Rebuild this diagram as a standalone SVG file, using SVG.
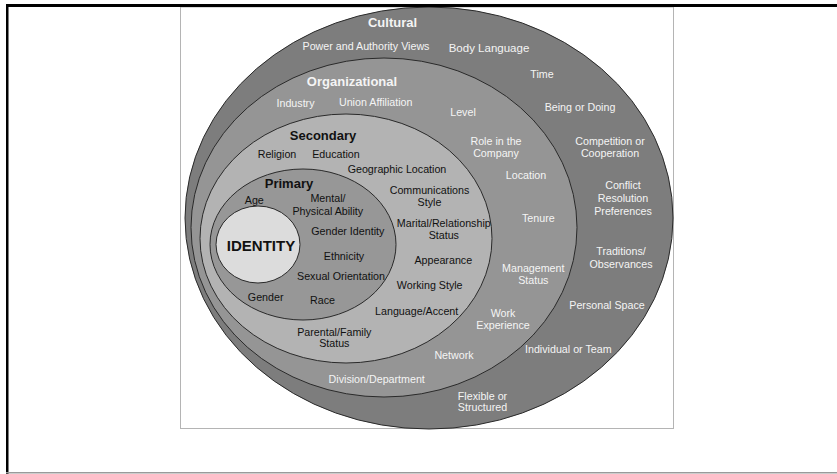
<svg xmlns="http://www.w3.org/2000/svg" width="837" height="474" viewBox="0 0 837 474">
  <style>
    text { font-family: "Liberation Sans", Arial, sans-serif; text-anchor: middle; }
    .ring { stroke: #2a2a2a; stroke-width: 1; }
    .w { fill: #f4f4f4; font-size: 10.7px; }
    .b { fill: #111111; font-size: 10.7px; }
    .tw { fill: #f4f4f4; font-size: 13px; font-weight: bold; }
    .tb { fill: #111111; font-size: 13px; font-weight: bold; }
  </style>

  <!-- page background -->
  <rect x="0" y="0" width="837" height="474" fill="#ffffff"/>

  <!-- picture panel -->
  <rect x="180.5" y="7" width="493" height="421.5" fill="#ffffff" stroke="#b4b4b4" stroke-width="1"/>

  <!-- outer ring: cultural dimensions -->
  <g id="cultural">
    <ellipse class="ring" cx="429" cy="218" rx="244" ry="211" fill="#7d7d7d"/>
    <text class="tw" x="392.5" y="27.4">Cultural</text>
    <text class="w" x="366" y="49.6">Power and Authority Views</text>
    <text class="w" x="489" y="52.2" style="font-size:11.5px">Body Language</text>
    <text class="w" x="542" y="77.9">Time</text>
    <text class="w" x="580" y="111.2">Being or Doing</text>
    <text class="w" x="610" y="144.6">Competition or</text>
    <text class="w" x="610" y="157.2">Cooperation</text>
    <text class="w" x="623" y="189.4">Conflict</text>
    <text class="w" x="623" y="202.4">Resolution</text>
    <text class="w" x="623" y="214.9">Preferences</text>
    <text class="w" x="621" y="255.4">Traditions/</text>
    <text class="w" x="621" y="267.9">Observances</text>
    <text class="w" x="607" y="308.6">Personal Space</text>
    <text class="w" x="568.3" y="353.2">Individual or Team</text>
    <text class="w" x="482.5" y="399.6">Flexible or</text>
    <text class="w" x="482.5" y="411.2">Structured</text>
  </g>

  <!-- organizational dimensions -->
  <g id="organizational">
    <ellipse class="ring" cx="384" cy="227.5" rx="193" ry="169.5" fill="#959595"/>
    <text class="tw" x="352" y="86">Organizational</text>
    <text class="w" x="295.5" y="107.2">Industry</text>
    <text class="w" x="375.7" y="106.2">Union Affiliation</text>
    <text class="w" x="463" y="115.6">Level</text>
    <text class="w" x="496" y="144.6">Role in the</text>
    <text class="w" x="496" y="157.2">Company</text>
    <text class="w" x="526" y="179.2">Location</text>
    <text class="w" x="538.3" y="221.6">Tenure</text>
    <text class="w" x="533.3" y="271.6">Management</text>
    <text class="w" x="533.3" y="283.9">Status</text>
    <text class="w" x="503" y="316.6">Work</text>
    <text class="w" x="503" y="328.9">Experience</text>
    <text class="w" x="454" y="358.9">Network</text>
    <text class="w" x="376.7" y="382.9">Division/Department</text>
  </g>

  <!-- secondary dimensions -->
  <g id="secondary">
    <ellipse class="ring" cx="346" cy="238.5" rx="146" ry="124.5" fill="#b3b3b3"/>
    <text class="tb" x="323" y="139.7">Secondary</text>
    <text class="b" x="277" y="157.9">Religion</text>
    <text class="b" x="336" y="157.9">Education</text>
    <text class="b" x="397" y="173.2">Geographic Location</text>
    <text class="b" x="429.5" y="193.9">Communications</text>
    <text class="b" x="429.5" y="206.2">Style</text>
    <text class="b" x="443.8" y="226.6">Marital/Relationship</text>
    <text class="b" x="443.8" y="239.1">Status</text>
    <text class="b" x="443.3" y="263.9">Appearance</text>
    <text class="b" x="429.7" y="288.9">Working Style</text>
    <text class="b" x="416.7" y="314.9">Language/Accent</text>
    <text class="b" x="334.3" y="335.6">Parental/Family</text>
    <text class="b" x="334.3" y="347.2">Status</text>
  </g>

  <!-- primary dimensions -->
  <g id="primary">
    <ellipse class="ring" cx="303" cy="244.5" rx="93" ry="75.5" fill="#979797"/>
    <text class="tb" x="289" y="188">Primary</text>
    <text class="b" x="254.3" y="203.9">Age</text>
    <text class="b" x="328" y="202.2">Mental/</text>
    <text class="b" x="327.8" y="214.6">Physical Ability</text>
    <text class="b" x="347.8" y="234.9">Gender Identity</text>
    <text class="b" x="344" y="259.9">Ethnicity</text>
    <text class="b" x="341" y="279.9">Sexual Orientation</text>
    <text class="b" x="265.7" y="300.6">Gender</text>
    <text class="b" x="322.5" y="303.9">Race</text>
  </g>

  <!-- core -->
  <g id="identity">
    <ellipse class="ring" cx="258" cy="244.5" rx="42" ry="38.5" fill="#dcdcdc"/>
    <text class="tb" x="261" y="251.4" style="font-size:15px">IDENTITY</text>
  </g>

  <!-- page frame -->
  <rect x="6" y="4" width="831" height="3" fill="#000000"/>
  <rect x="6" y="4" width="2.5" height="470" fill="#000000"/>
  <rect x="6" y="472" width="831" height="1.5" fill="#9a9a9a"/>
</svg>
